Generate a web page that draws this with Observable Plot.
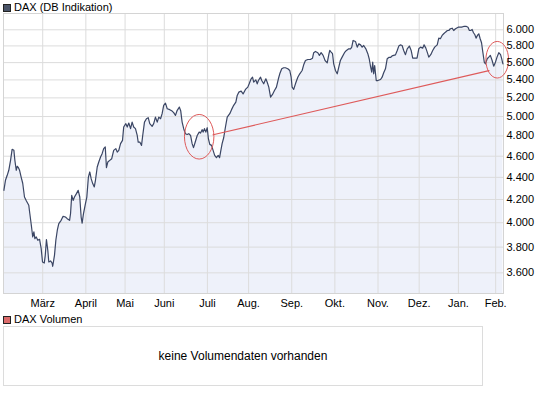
<!DOCTYPE html>
<html>
<head>
<meta charset="utf-8">
<script src="https://cdn.jsdelivr.net/npm/d3@7"></script>
<script src="https://cdn.jsdelivr.net/npm/@observablehq/plot@0.6"></script>
<style>
  html, body { margin: 0; padding: 0; background: #fff; }
  body { width: 545px; height: 395px; overflow: hidden; font-family: 'Liberation Sans', Arial, sans-serif; font-size: 11px; color: #000; }
  .legend { position: relative; height: 12px; }
  .legend .sq { position: absolute; left: 3px; width: 6px; height: 6px; border: 1px solid #222; }
  .legend .lbl { position: absolute; left: 14px; line-height: 12px; white-space: nowrap; }
  #chart svg { display: block; }
  #volbox { margin: 1px 0 0 3px; width: 480px; height: 60px; box-sizing: border-box; border: 1px solid #dcdcdc;
            display: flex; align-items: center; justify-content: center; font-size: 12px; }
</style>
</head>
<body>
<div class="legend" id="leg1"><span class="sq" style="top:4px;background:#4a5468"></span><span class="lbl" style="top:1px">DAX (DB Indikation)</span></div>
<div id="chart"></div>
<div class="legend" id="leg2"><span class="sq" style="top:3px;background:#dc6b6b"></span><span class="lbl" style="top:0px">DAX Volumen</span></div>
<div id="volbox">keine Volumendaten vorhanden</div>
<script>
// trading-day index (Feb 2009 = 0) and DAX level
const dayIdx = [0.2,1.0,1.9,2.7,3.6,4.4,5.3,5.8,6.5,7.0,
7.5,8.2,9.0,9.8,10.7,11.7,12.9,13.4,14.3,14.9,
15.5,16.0,16.7,17.5,18.4,19.2,19.9,20.8,21.3,21.9,
22.6,23.1,24.0,24.8,25.1,26.0,26.7,27.5,28.2,29.4,
30.4,31.6,32.5,33.7,34.2,34.8,35.5,36.2,37.2,38.1,
38.9,39.6,40.1,40.8,41.8,42.5,43.3,44.0,44.7,45.5,
46.3,46.9,47.8,48.6,49.5,50.3,51.1,51.9,52.5,53.2,
54.2,55.2,56.2,57.3,58.0,58.8,59.7,60.7,61.3,62.4,
63.1,63.9,64.8,65.6,66.4,67.3,68.2,68.7,69.5,70.4,
71.0,71.9,72.9,73.8,74.6,75.8,76.6,77.5,78.4,79.2,
80.1,80.9,81.7,82.6,83.5,84.8,86.0,86.8,87.7,88.6,
89.7,90.4,91.1,91.9,92.8,93.7,94.5,95.4,96.2,96.9,
97.8,98.8,99.8,100.5,101.3,101.8,102.5,103.2,103.9,104.5,
105.2,106.1,106.9,107.7,108.6,109.5,110.2,110.7,111.5,112.3,
113.2,114.1,115.4,116.3,117.4,118.5,119.2,120.0,121.2,122.2,
123.4,124.6,125.3,126.3,127.0,127.6,128.7,129.4,130.0,131.1,
131.7,132.7,133.8,134.5,135.3,136.2,137.2,138.2,139.2,140.2,
140.9,141.9,142.9,143.8,145.0,146.0,146.7,147.2,148.0,148.9,
150.1,151.1,152.3,153.1,154.0,155.2,156.5,157.6,158.2,159.1,
160.3,161.1,162.0,163.0,164.0,165.1,165.9,166.4,167.1,167.8,
168.4,169.3,170.2,171.0,171.8,172.7,173.9,174.9,176.1,177.0,
177.6,178.3,179.5,180.4,181.2,182.1,182.9,183.7,184.8,185.8,
186.5,187.1,187.8,188.3,188.8,189.3,190.1,190.9,192.3,193.1,
193.9,194.8,195.7,196.5,197.4,198.2,199.0,199.9,200.8,201.6,
202.4,203.3,204.1,205.0,205.9,207.0,207.9,208.7,209.7,210.9,
211.8,212.7,213.8,214.5,215.4,216.1,216.9,217.9,218.9,219.9,
221.2,222.0,222.8,223.7,224.5,225.4,226.4,227.1,227.9,228.8,
229.6,230.5,231.9,233.6,234.7,235.9,236.9,237.6,238.3,239.0,
239.7,240.4,241.0,241.7,242.4,243.1,243.8,244.4,245.2,245.8,
246.7,247.5,248.3,249.2,250.0,250.9,251.7,252.6,253.5,254.0,254.7];

const daxValues = [4282,4373,4419,4466,4560,4667,4657,4560,4466,4504,
4494,4466,4403,4346,4222,4186,4149,4080,3964,3882,
3923,3869,3882,3855,3863,3790,3683,3675,3735,3861,
3774,3683,3691,3675,3650,3735,3855,3943,3992,4020,
4054,4048,4034,4020,4078,4237,4192,4222,4252,4282,
4222,4048,3997,4078,4164,4222,4403,4450,4388,4343,
4312,4373,4497,4544,4592,4625,4674,4690,4491,4544,
4560,4576,4657,4674,4640,4657,4723,4756,4891,4926,
4891,4932,4874,4942,4891,4874,4805,4739,4739,4706,
4805,4942,4977,4988,4926,4898,4926,4994,4942,4994,
4977,5030,5119,5143,5083,5073,5058,5041,5012,5066,
5100,5058,4942,4874,4823,4815,4823,4805,4723,4684,
4739,4805,4839,4829,4864,4839,4874,4839,4884,4772,
4716,4706,4657,4608,4586,4608,4586,4640,4723,4782,
4891,4994,5030,5073,5119,5154,5227,5263,5274,5243,
5293,5319,5356,5413,5431,5374,5401,5356,5393,5431,
5393,5356,5413,5374,5319,5208,5238,5282,5319,5413,
5470,5528,5540,5540,5528,5508,5431,5319,5293,5356,
5431,5470,5508,5574,5625,5637,5637,5653,5718,5733,
5718,5686,5718,5686,5625,5598,5694,5745,5725,5706,
5586,5508,5470,5547,5625,5665,5718,5745,5765,5765,
5785,5867,5855,5785,5825,5813,5785,5805,5765,5706,
5646,5566,5489,5605,5470,5566,5393,5393,5405,5431,
5482,5528,5646,5661,5661,5680,5686,5692,5745,5798,
5813,5805,5745,5694,5765,5798,5745,5653,5653,5653,
5765,5785,5773,5813,5773,5725,5665,5694,5745,5785,
5813,5896,5888,5929,5950,5970,5991,5991,6013,6020,
5991,6013,6033,6033,6042,6045,6033,5991,5991,6004,
5963,5938,5896,5929,5950,5888,5839,5733,5605,5586,
5646,5665,5686,5625,5558,5605,5665,5718,5694,5653,5586];

// month axis: first trading day index of each month, and labels
const monthIdx = [20, 42, 62, 82, 104, 125, 147, 169, 191, 212, 232, 251];
const monthLabels = ["März","April","Mai","Juni","Juli","Aug.","Sep.","Okt.","Nov.","Dez.","Jan.","Feb."];

// y tick values
const yTicks = [3600,3800,4000,4200,4400,4600,4800,5000,5200,5400,5600,5800,6000];

// annotations: red trend line and two circled regions
const trendIdx = [106.9, 247.6];
const trendVal = [4812, 5507];
const circleIdx = [99.8, 251.8];
const circleVal = [4792, 5634];

const data = dayIdx.map((d, i) => ({day: d, value: daxValues[i]}));
const trend = trendIdx.map((d, i) => ({day: d, value: trendVal[i]}));
const circles = circleIdx.map((d, i) => ({day: d, value: circleVal[i]}));

const Y_MIN = 3447, Y_MAX = 6209;
const fmt = d3.formatLocale({decimal: ",", thousands: ".", grouping: [3], currency: ["", " €"]}).format(",d");

function ellipseSymbol(ratio) {
  return {
    draw(ctx, size) {
      const ry = Math.sqrt(size / Math.PI), rx = ry * ratio, k = 0.5522847498;
      ctx.moveTo(rx, 0);
      ctx.bezierCurveTo(rx, ry * k, rx * k, ry, 0, ry);
      ctx.bezierCurveTo(-rx * k, ry, -rx, ry * k, -rx, 0);
      ctx.bezierCurveTo(-rx, -ry * k, -rx * k, -ry, 0, -ry);
      ctx.bezierCurveTo(rx * k, -ry, rx, -ry * k, rx, 0);
      ctx.closePath();
    }
  };
}

const red = "#de5a5a";
const gridColor = "#dcdcdc";

const chart = Plot.plot({
  width: 545,
  height: 301,
  marginTop: 1,
  marginBottom: 20,
  marginLeft: 3,
  marginRight: 42,
  style: {fontFamily: "'Liberation Sans', Arial, sans-serif", fontSize: "11px", color: "#000", background: "transparent", overflow: "visible"},
  x: {type: "linear", domain: [0, 255]},
  y: {type: "log", domain: [Y_MIN, Y_MAX], axis: null},
  marks: [
    Plot.areaY(data, {x: "day", y1: () => Y_MIN, y2: "value", fill: "#eef1fa"}),
    Plot.gridY(yTicks, {stroke: gridColor, strokeOpacity: 1}),
    Plot.gridX(monthIdx, {stroke: gridColor, strokeOpacity: 1}),
    Plot.frame({stroke: "#d4d4d4"}),
    Plot.lineY(data, {x: "day", y: "value", stroke: "#3b4664", strokeWidth: 1.2}),
    Plot.line(trend, {x: "day", y: "value", stroke: red, strokeWidth: 1.2}),
    Plot.dot(circles.slice(0, 1), {x: "day", y: "value", r: 22.3, symbol: ellipseSymbol(0.66), stroke: red, fill: "none", strokeWidth: 1}),
    Plot.dot(circles.slice(1, 2), {x: "day", y: "value", r: 18.3, symbol: ellipseSymbol(0.62), stroke: red, fill: "none", strokeWidth: 1}),
    Plot.text(yTicks, {y: d => d, frameAnchor: "right", dx: 3, textAnchor: "start", lineAnchor: "middle", text: d => fmt(d), fill: "#000"}),
    Plot.axisX(monthIdx, {anchor: "bottom", tickSize: 0, tickPadding: 6, tickFormat: d => monthLabels[monthIdx.indexOf(d)], label: null})
  ]
});
document.getElementById("chart").appendChild(chart);
</script>
</body>
</html>
